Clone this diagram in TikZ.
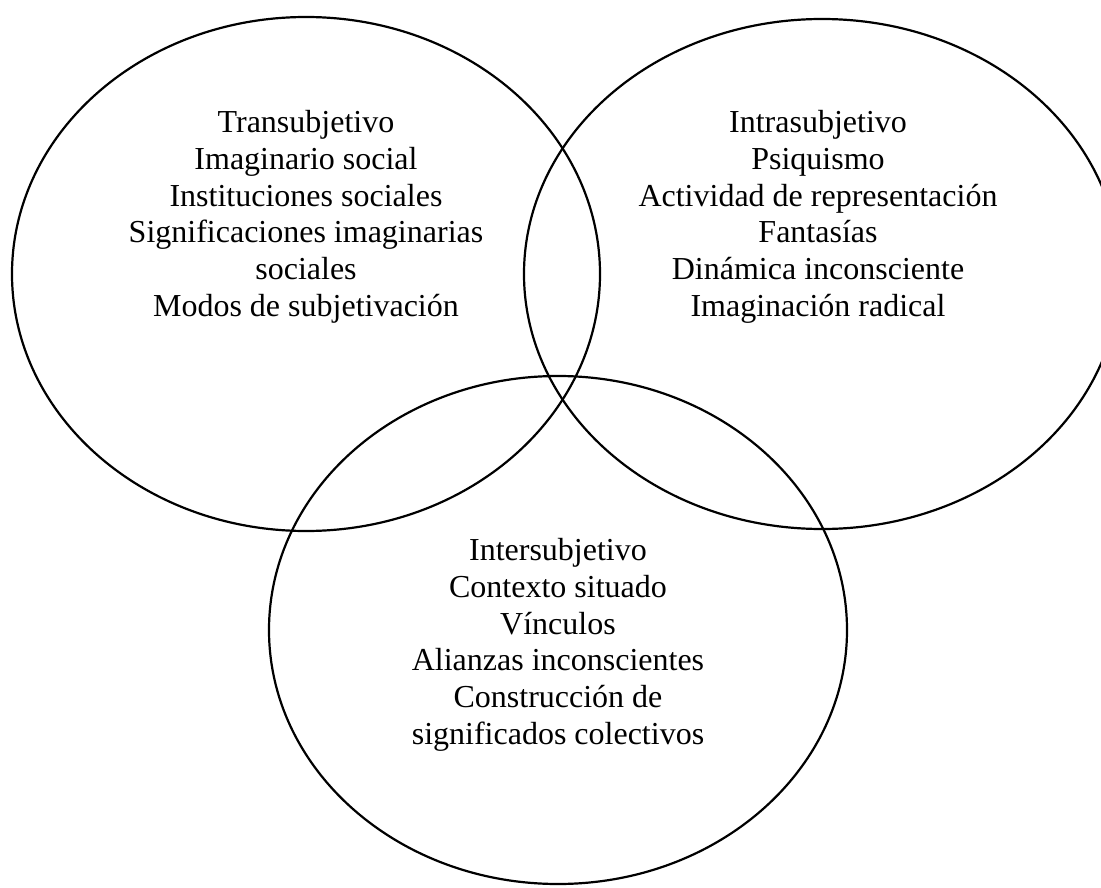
\documentclass[tikz,border=0pt]{standalone}
\usepackage{fontspec}
\setmainfont{Liberation Serif}
\usepackage{tikz}
\usetikzlibrary{shapes.geometric}
\newcommand{\vennFont}[0]{\fontsize{32}{36.8}\selectfont}

\begin{document}
\begin{tikzpicture}[x=1pt, y=1pt]
  \tikzset{set/.style={draw, ellipse, line width=2.2pt, inner sep=0pt},
           set text/.style={align=center, anchor=north, inner sep=0pt, font=\vennFont}}
  \useasboundingbox (0,0) rectangle (1101,-888);
  \clip (0,0) rectangle (1101,-888);
  % the three sets
  \node[set, minimum width=588pt, minimum height=514pt] (trans) at (306,-274) {};
  \node[set, minimum width=596pt, minimum height=510pt] (intra) at (822,-274) {};
  \node[set, minimum width=578pt, minimum height=508pt] (inter) at (558,-630) {};
  % their contents
  \node[set text] (transText) at (306,-110) {Transubjetivo\\Imaginario social\\Instituciones sociales\\Significaciones imaginarias\\sociales\\Modos de subjetivación};
  \node[set text] (intraText) at (818,-110) {Intrasubjetivo\\Psiquismo\\Actividad de representación\\Fantasías\\Dinámica inconsciente\\Imaginación radical};
  \node[set text] (interText) at (558,-538) {Intersubjetivo\\Contexto situado\\Vínculos\\Alianzas inconscientes\\Construcción de\\significados colectivos};
\end{tikzpicture}
\end{document}
